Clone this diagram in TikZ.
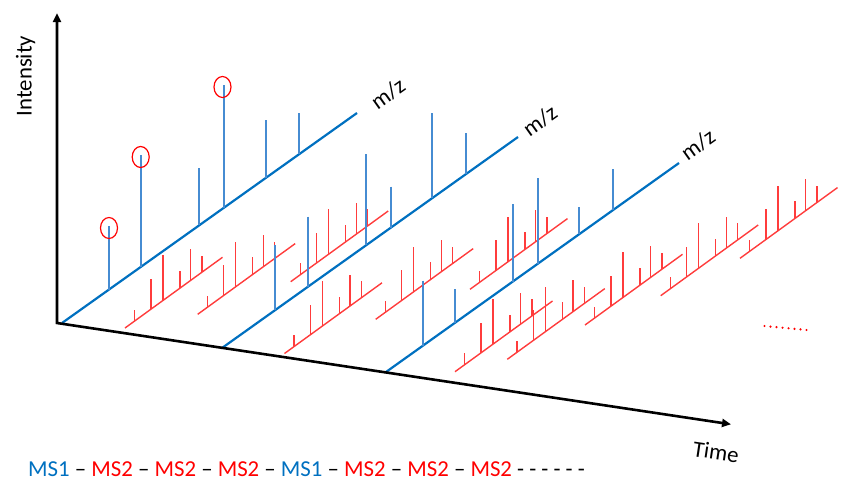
\documentclass[tikz,border=0pt]{standalone}
\usepackage{fontspec}
\setmainfont{Carlito}
\usetikzlibrary{arrows.meta}
\definecolor{msblue}{RGB}{0,112,192}
\definecolor{pkblue}{RGB}{70,140,210}
\definecolor{msred}{RGB}{255,0,0}
\definecolor{pkred}{RGB}{255,60,60}
\begin{document}
\begin{tikzpicture}[x=1pt,y=-1pt,
  axisline/.style={line width=2.6pt, line join=miter, {Triangle[length=9pt,width=8pt]}-{Triangle[length=9pt,width=8pt]}},
  ms1base/.style={msblue, line width=2.2pt},
  ms1peak/.style={pkblue, line width=1.8pt},
  ms2line/.style={pkred, line width=1.4pt},
  peakring/.style={msred, line width=1.2pt},
  lbl/.style={font=\fontsize{22.8}{27}\selectfont, inner sep=0pt}]
\useasboundingbox (0,0) rectangle (865,493);

% ---- MS2 spectra (red) ----
\foreach \sx/\sy in {125/328, 197.7/314.3, 290.7/281.7, 284.5/353.5, 375.7/319.3, 470/289.3,
                     455/371.7, 507.3/359.3, 585/325, 660.7/295.7, 740/258.3}{
  \draw[ms2line] (\sx,\sy) -- ++(97.5,-70.7);
  \foreach \d/\h in {9.5/11.5, 26/30, 38/45, 55/17, 65.5/31.5, 77/16.5}
    \draw[ms2line] ({\sx+\d},{\sy-0.725*\d}) -- ++(0,-\h);
}

% ---- MS1 spectra (blue) ----
\coordinate (b1s) at (62,323);  \coordinate (b1e) at (357,113);
\coordinate (b2s) at (222,348); \coordinate (b2e) at (518,137);
\coordinate (b3s) at (386,372); \coordinate (b3e) at (679,163);
\draw[ms1base] (b1s) -- (b1e);
\draw[ms1base] (b2s) -- (b2e);
\draw[ms1base] (b3s) -- (b3e);
\foreach \x/\t in {109/226, 141/155, 199.3/168, 224/85, 265.7/120, 299/113}
  \draw[ms1peak] (\x,\t) -- (\x,{323-0.7119*(\x-62)});
\foreach \x/\t in {275.3/245, 307.7/216.7, 366/154.3, 390.7/186.7, 432.3/113.3, 465.7/133.3}
  \draw[ms1peak] (\x,\t) -- (\x,{348-0.7128*(\x-222)});
\foreach \x/\t in {422.7/280.7, 455/289.3, 512.7/204, 537.7/178.3, 579/207, 613.3/169}
  \draw[ms1peak] (\x,\t) -- (\x,{372-0.7133*(\x-386)});

% ---- selected precursor rings ----
\coordinate (r1) at (109,228);
\coordinate (r2) at (140.7,157);
\coordinate (r3) at (222.5,87);
\foreach \c in {r1,r2,r3}
  \draw[peakring] (\c) ellipse [x radius=8.5pt, y radius=10.5pt];

% ---- axes ----
\coordinate (O) at (57,323);
\coordinate (ytip) at (57,13);
\coordinate (ttip) at (731,424.3);
\draw[axisline] (ytip) -- (O) -- (ttip);

% ---- dotted continuation ----
\coordinate (d1) at (764.5,326);
\coordinate (d2) at (806.7,330);
\draw[msred, line width=2.4pt, line cap=round, dash pattern=on 0pt off 6.03pt] (d1) -- (d2);

% ---- labels ----
\node[lbl, rotate=90] (intensity) at (25.5,76) {Intensity};
\node[lbl, rotate=35.3] (mz1) at (388,94) {m/z};
\node[lbl, rotate=35.3] (mz2) at (540,121) {m/z};
\node[lbl, rotate=35.3] (mz3) at (698,145) {m/z};
\node[lbl, rotate=-8.5] (time) at (716,452) {Time};
\node[lbl, anchor=base west] (seq) at (28,476.7)
  {{\color{msblue}MS1} \textendash{} {\color{msred}MS2} \textendash{} {\color{msred}MS2} \textendash{} {\color{msred}MS2} \textendash{} {\color{msblue}MS1} \textendash{} {\color{msred}MS2} \textendash{} {\color{msred}MS2} \textendash{} {\color{msred}MS2} - - - - - -};
\end{tikzpicture}
\end{document}
